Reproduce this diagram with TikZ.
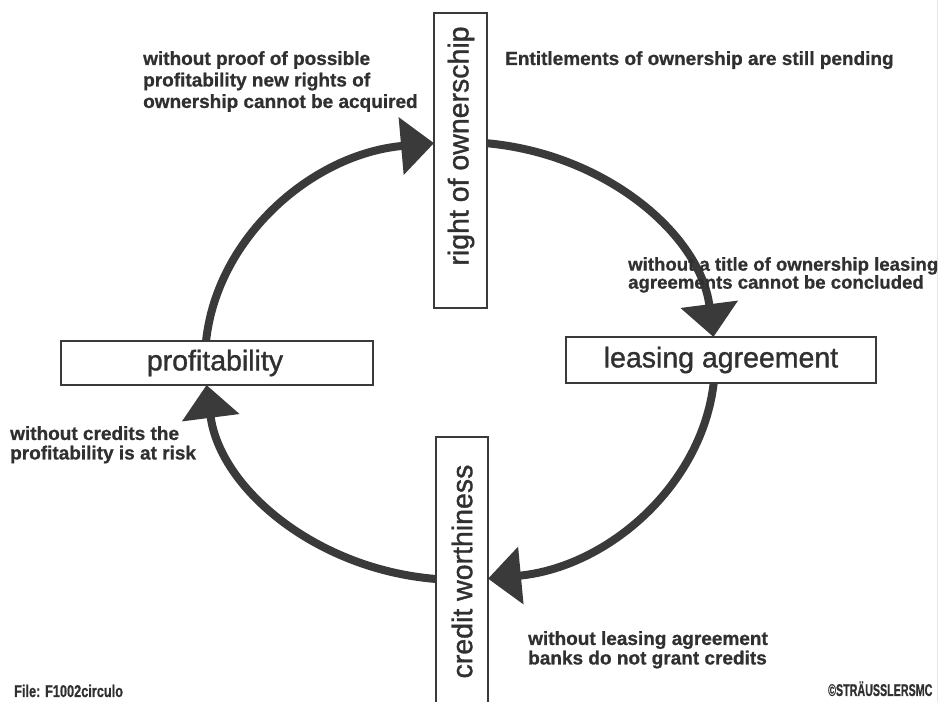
\documentclass[tikz,border=0pt]{standalone}
\usepackage{fontspec}
\setmainfont{Liberation Sans}
\newfontfamily\lblfont[FakeBold=1.2]{Liberation Sans}
\newfontfamily\notefont[UprightFont={* Bold}, FakeBold=0.8]{Liberation Sans}
\usetikzlibrary{arrows.meta,calc}
\definecolor{ink}{HTML}{3A3A3A}
\definecolor{txt}{HTML}{303030}
\definecolor{scanline}{HTML}{E6E6E6}
\begin{document}
\begin{tikzpicture}[x=1pt,y=1pt,
  box/.style={draw=ink, line width=1.4pt, fill=white, inner sep=0pt},
  lbl/.style={text=txt, font=\lblfont\fontsize{28.5}{32}\selectfont, inner sep=0pt},
  note/.style={text=txt, font=\notefont\fontsize{19}{21.5}\selectfont, align=left,
               inner sep=0pt, anchor=north west},
  loopline/.style={draw=ink, line width=8pt, -{Triangle[length=33pt,width=56pt]}},
  tiny/.style={text=txt, font=\notefont\fontsize{17}{18}\selectfont, inner sep=0pt, anchor=base west},
]
\useasboundingbox (0,0) rectangle (946,702);
\fill[white] (0,0) rectangle (946,702);
\draw[scanline, line width=1pt] (937,0) -- (937,702);
\coordinate (c) at (460,341);

% boxes
\node[box, minimum width=53pt, minimum height=295pt] (own) at (460.5,541.5) {};
\node[box, minimum width=310pt, minimum height=46pt] (lease) at (721,342) {};
\node[box, minimum width=312pt, minimum height=44pt] (prof) at (217,339) {};
\node[box, minimum width=52pt, minimum height=273pt] (cred) at (462,128.5) {};

% box labels
\node[lbl, rotate=90] (ownlbl) at (461,556) {right of ownerschip};
\node[lbl] (leaselbl) at (lease) {leasing agreement};
\node[lbl] (proflbl) at ([xshift=-2pt]prof.center) {profitability};
\node[lbl, rotate=90] (credlbl) at (462,130.5) {credit worthiness};

% cycle arcs
\draw[loopline] ($(c)+(174.76:255pt and 219pt)$) arc[start angle=174.76, end angle=95.85, x radius=255pt, y radius=219pt];
\draw[loopline] ($(c)+(83.92:255pt and 219pt)$) arc[start angle=83.92, end angle=6.29, x radius=255pt, y radius=219pt];
\draw[loopline] ($(c)+(-5.77:255pt and 219pt)$) arc[start angle=-5.77, end angle=-83.7, x radius=255pt, y radius=219pt];
\draw[loopline] ($(c)+(264.6:255pt and 219pt)$) arc[start angle=264.6, end angle=186.29, x radius=255pt, y radius=219pt];

% notes
\node[note] (n1) at (143,651) {without proof of possible\\profitability new rights of\\ownership cannot be acquired};
\node[note, anchor=base west] (n2) at (505,637) {Entitlements of ownership are still pending};
\node[note, font=\notefont\fontsize{18.6}{18}\selectfont] (n3) at (628,445) {without a title of ownership leasing\\agreements cannot be concluded};
\node[note, font=\notefont\fontsize{19}{19.5}\selectfont] (n4) at (10,276) {without credits the\\profitability is at risk};
\node[note, font=\notefont\fontsize{19}{19.5}\selectfont] (n5) at (528,71) {without leasing agreement\\banks do not grant credits};
\node[tiny, xscale=0.75] (file) at (14,5) {File: F1002circulo};
\node[tiny, xscale=0.63] (copy) at (828,6) {©STRÄUSSLERSMC};
\end{tikzpicture}
\end{document}
